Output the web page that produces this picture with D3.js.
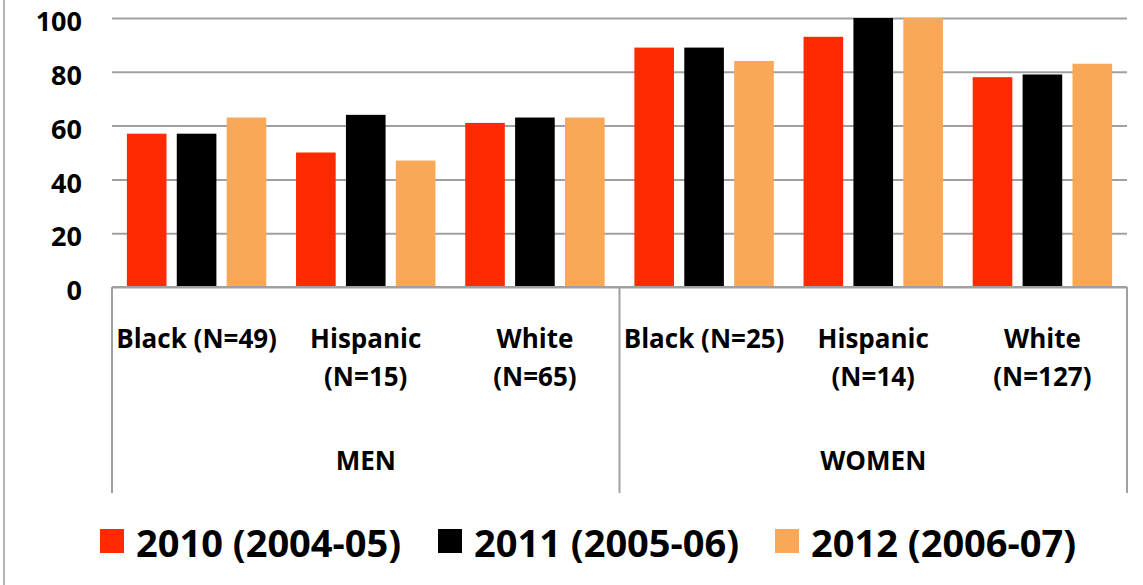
<!DOCTYPE html>
<html>
<head>
<meta charset="utf-8">
<script src="https://cdn.jsdelivr.net/npm/d3@7"></script>
<style>
  html, body { margin: 0; padding: 0; background: #fff; }
  svg { display: block; font-family: "Open Sans", "Liberation Sans", sans-serif; font-weight: bold; }
</style>
</head>
<body>
<svg id="chart" width="1143" height="585"></svg>
<script>
// Sub-groups along the x axis (label lines) and their parent groups
const categories = ["Black (N=49)", "Hispanic (N=15)", "White (N=65)", "Black (N=25)", "Hispanic (N=14)", "White (N=127)"];
const categoryLines = [["Black (N=49)"], ["Hispanic", "(N=15)"], ["White", "(N=65)"], ["Black (N=25)"], ["Hispanic", "(N=14)"], ["White", "(N=127)"]];
const groups = ["MEN", "WOMEN"];
const groupSize = 3;

// Series
const seriesNames = ["2010 (2004-05)", "2011 (2005-06)", "2012 (2006-07)"];
const seriesColors = ["#FF2A00", "#000000", "#F9A857"];
const values2010 = [57, 50, 61, 89, 93, 78];
const values2011 = [57, 64, 63, 89, 100, 79];
const values2012 = [63, 47, 63, 84, 100, 83];
const seriesValues = [values2010, values2011, values2012];

const yTicks = [0, 20, 40, 60, 80, 100];

const svg = d3.select("#chart");
const plotLeft = 112, plotRight = 1127, plotTop = 18, plotBottom = 287;
const axisBottom = 493;

const x = d3.scaleBand().domain(categories).range([plotLeft, plotRight]).padding(0);
const xInner = d3.scaleBand().domain(seriesNames).range([0, x.bandwidth()])
  .paddingInner(0.206).paddingOuter(0.298);
const y = d3.scaleLinear().domain([0, 100]).range([plotBottom, plotTop]);

// Outer frame edge on the left
svg.append("line").attr("x1", 4).attr("x2", 4).attr("y1", 0).attr("y2", 585)
  .attr("stroke", "#b4b4b4").attr("stroke-width", 2);

// Gridlines and y tick labels
const yAxis = svg.append("g").attr("transform", `translate(${plotLeft},0)`)
  .call(d3.axisLeft(y).tickValues(yTicks).tickSize(-(plotRight - plotLeft)).tickPadding(30).tickFormat(d3.format("d")));
yAxis.select(".domain").remove();
yAxis.selectAll(".tick line").attr("stroke", "#a0a0a0").attr("stroke-width", 2);
yAxis.selectAll(".tick text").attr("fill", "#000").attr("dy", "0.47em")
  .style("font-size", "27px").style("font-weight", "bold")
  .style("font-family", "'Open Sans', sans-serif");

// Bars
const series = svg.append("g");
seriesNames.forEach((name, si) => {
  series.append("g").selectAll("rect")
    .data(categories.map((c, i) => ({ c, v: seriesValues[si][i] })))
    .join("rect")
    .attr("x", d => x(d.c) + xInner(name))
    .attr("width", xInner.bandwidth())
    .attr("y", d => y(d.v))
    .attr("height", d => y(0) - y(d.v))
    .attr("fill", seriesColors[si]);
});

// Category axis: baseline and group separators
const axisG = svg.append("g").attr("stroke", "#a0a0a0").attr("stroke-width", 2);
axisG.append("line").attr("x1", plotLeft).attr("x2", plotRight).attr("y1", plotBottom).attr("y2", plotBottom);
const separators = [0, groupSize, categories.length].map(i =>
  i < categories.length ? x(categories[i]) : plotRight);
separators.forEach(sx => {
  axisG.append("line").attr("x1", sx).attr("x2", sx).attr("y1", plotBottom).attr("y2", axisBottom);
});

// Sub-group labels
const catLabels = svg.append("g").attr("text-anchor", "middle").style("font-size", "26px");
categories.forEach((c, i) => {
  const t = catLabels.append("text").attr("x", x(c) + x.bandwidth() / 2).attr("y", 348);
  categoryLines[i].forEach((line, li) => {
    t.append("tspan").attr("x", x(c) + x.bandwidth() / 2).attr("y", 348 + li * 38).text(line);
  });
});

// Group labels
groups.forEach((g, gi) => {
  const x0 = x(categories[gi * groupSize]);
  const x1 = gi * groupSize + groupSize < categories.length ? x(categories[gi * groupSize + groupSize]) : plotRight;
  svg.append("text").attr("x", (x0 + x1) / 2).attr("y", 470).attr("text-anchor", "middle")
    .style("font-size", "26px").text(g);
});

// Legend
const legendX = [100, 438, 775];
const legend = svg.append("g");
seriesNames.forEach((name, si) => {
  legend.append("rect").attr("x", legendX[si]).attr("y", 529).attr("width", 24).attr("height", 24)
    .attr("fill", seriesColors[si]);
  legend.append("text").attr("x", legendX[si] + 36).attr("y", 557).style("font-size", "38px").text(name);
});
</script>
</body>
</html>
